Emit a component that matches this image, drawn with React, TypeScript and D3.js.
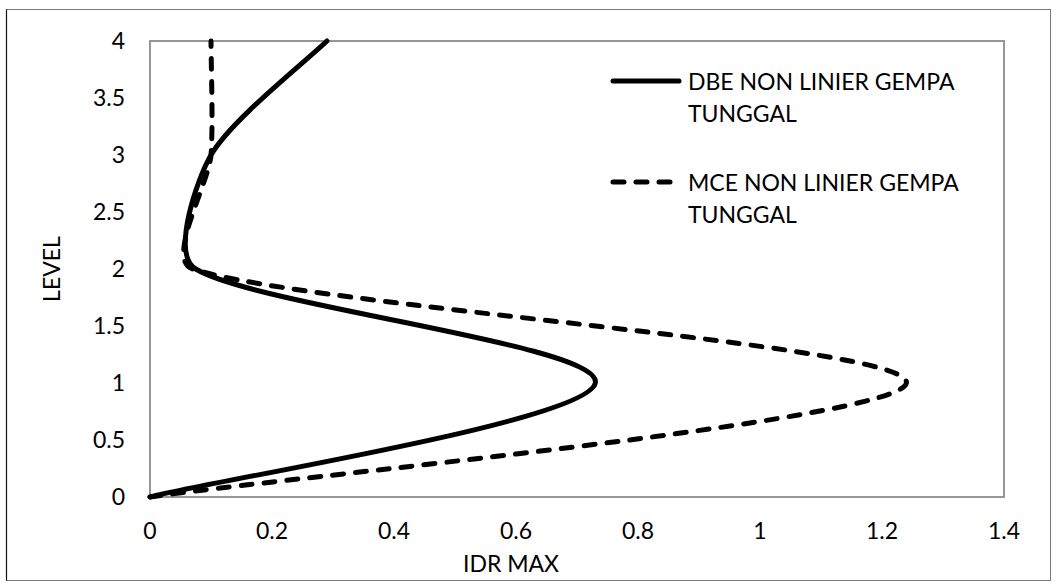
import React from "react";
import * as d3 from "d3";

// Storey levels and maximum inter-storey drift ratio per series
const levels = [0, 1, 2, 3, 4];
const dbeIdr = [0, 0.73, 0.075, 0.1, 0.29];
const mceIdr = [0, 1.24, 0.07, 0.1, 0.1];

const xTicks = [0, 0.2, 0.4, 0.6, 0.8, 1, 1.2, 1.4];
const yTicks = [0, 0.5, 1, 1.5, 2, 2.5, 3, 3.5, 4];

const seriesNames = [
  ["DBE NON LINIER GEMPA", "TUNGGAL"],
  ["MCE NON LINIER GEMPA", "TUNGGAL"],
];

const W = 1057;
const H = 587;
const FONT = "Lato, 'Open Sans', sans-serif";

type Pt = [number, number];

// Smoothed line through the points: cubic Bezier segments whose handles follow
// the Catmull-Rom tangent (neighbour chord / 6), limited to a quarter of the
// adjacent segment length so that short segments do not overshoot.
function smoothPath(pts: Pt[]): string {
  const p = d3.path();
  const n = pts.length;
  if (!n) return "";
  const tan = (i: number): Pt => {
    const a = pts[Math.max(0, i - 1)];
    const b = pts[Math.min(n - 1, i + 1)];
    return [b[0] - a[0], b[1] - a[1]];
  };
  const len = (v: Pt) => Math.hypot(v[0], v[1]);
  p.moveTo(pts[0][0], pts[0][1]);
  for (let i = 0; i < n - 1; i++) {
    const a = pts[i];
    const b = pts[i + 1];
    const L = Math.hypot(b[0] - a[0], b[1] - a[1]);
    const ta = tan(i);
    const tb = tan(i + 1);
    const sa = Math.min(1 / 6, (0.25 * L) / (len(ta) || 1));
    const sb = Math.min(1 / 6, (0.25 * L) / (len(tb) || 1));
    p.bezierCurveTo(
      a[0] + ta[0] * sa,
      a[1] + ta[1] * sa,
      b[0] - tb[0] * sb,
      b[1] - tb[1] * sb,
      b[0],
      b[1]
    );
  }
  return p.toString();
}

export default function App() {
  const x = d3.scaleLinear().domain([0, 1.4]).range([150, 1004]);
  const y = d3.scaleLinear().domain([0, 4]).range([497, 41]);

  const dbe: Pt[] = levels.map((l, i) => [x(dbeIdr[i]), y(l)]);
  const mce: Pt[] = levels.map((l, i) => [x(mceIdr[i]), y(l)]);

  const axisColor = "#8c8c8c";
  const dash = "11 12";

  return (
    <svg
      width={W}
      height={H}
      style={{ position: "absolute", left: 0, top: 0, background: "#fff" }}
      fontFamily={FONT}
    >
      {/* chart frame */}
      <rect x={6.5} y={9.5} width={1044} height={571} fill="#fff" stroke="#7a7a7a" strokeWidth={1} />
      <line x1={6.5} y1={9.5} x2={6.5} y2={580.5} stroke="#111" strokeWidth={1.2} />

      {/* plot area border */}
      <rect
        x={x(0)}
        y={y(4)}
        width={x(1.4) - x(0)}
        height={y(0) - y(4)}
        fill="none"
        stroke={axisColor}
        strokeWidth={1.8}
      />

      {/* y tick labels */}
      {yTicks.map((t) => (
        <text
          key={"y" + t}
          x={125}
          y={y(t)}
          dy="0.36em"
          textAnchor="end"
          fontSize={23}
          fill="#000"
        >
          {d3.format("~g")(t)}
        </text>
      ))}

      {/* x tick labels */}
      {xTicks.map((t) => (
        <text
          key={"x" + t}
          x={x(t)}
          y={539}
          textAnchor="middle"
          fontSize={23}
          fill="#000"
        >
          {d3.format("~g")(t)}
        </text>
      ))}

      {/* axis titles */}
      <text x={511} y={572} textAnchor="middle" fontSize={23} fill="#000">
        IDR MAX
      </text>
      <text
        transform={`translate(60, ${(y(0) + y(4)) / 2}) rotate(-90)`}
        textAnchor="middle"
        fontSize={23}
        fill="#000"
      >
        LEVEL
      </text>

      {/* series */}
      <path
        d={smoothPath(mce)}
        fill="none"
        stroke="#000"
        strokeWidth={5}
        strokeDasharray={dash}
        strokeLinecap="round"
        strokeLinejoin="round"
      />
      <path
        d={smoothPath(dbe)}
        fill="none"
        stroke="#000"
        strokeWidth={5}
        strokeLinecap="round"
        strokeLinejoin="round"
      />

      {/* legend */}
      {seriesNames.map((lines, i) => {
        const cy = i === 0 ? 81 : 182;
        return (
          <g key={"lg" + i}>
            <line
              x1={613}
              x2={679}
              y1={cy}
              y2={cy}
              stroke="#000"
              strokeWidth={5}
              strokeLinecap="round"
              strokeDasharray={i === 0 ? undefined : dash}
            />
            {lines.map((s, j) => (
              <text key={j} x={688} y={cy + 8.5 + j * 32.5} fontSize={23} fill="#000">
                {s}
              </text>
            ))}
          </g>
        );
      })}
    </svg>
  );
}
